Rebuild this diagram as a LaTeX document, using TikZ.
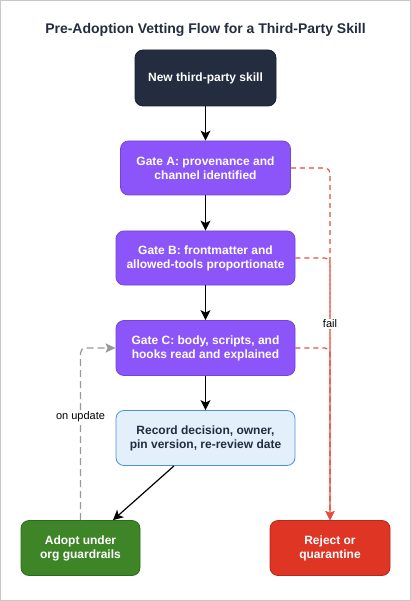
\documentclass[tikz,border=0pt]{standalone}
\usepackage{fontspec}
\setmainfont{Liberation Sans}
\usetikzlibrary{arrows.meta}
\definecolor{darkfill}{HTML}{232D3F}
\definecolor{darkborder}{HTML}{1A2230}
\definecolor{purplefill}{HTML}{8C55F9}
\definecolor{purpleborder}{HTML}{7443D9}
\definecolor{recfill}{HTML}{E3F0FC}
\definecolor{recborder}{HTML}{4A90E2}
\definecolor{greenfill}{HTML}{3E8527}
\definecolor{greenborder}{HTML}{2C6B1B}
\definecolor{redfill}{HTML}{DE3525}
\definecolor{redborder}{HTML}{B8281A}
\definecolor{faildash}{HTML}{E74C3C}
\definecolor{updash}{HTML}{999999}
\definecolor{framegray}{HTML}{C8C8C8}
\begin{document}
\begin{tikzpicture}[x=1pt,y=-1pt,
  box/.style={rounded corners=8pt, align=center, inner sep=0pt, line width=0.8pt,
    font=\fontsize{12}{14}\selectfont\bfseries},
  darkbox/.style={box, fill=darkfill, draw=darkborder, text=white},
  gatebox/.style={box, fill=purplefill, draw=purpleborder, text=white},
  recbox/.style={box, fill=recfill, draw=recborder, text=darkfill},
  adoptbox/.style={box, fill=greenfill, draw=greenborder, text=white},
  rejbox/.style={box, fill=redfill, draw=redborder, text=white},
  arr/.style={draw=black, line width=1.2pt, -{Stealth[length=10pt,width=10pt,inset=2.5pt]}},
  failedge/.style={draw=faildash, line width=1.1pt, dash pattern=on 5pt off 4pt, rounded corners=5pt,
    -{Stealth[length=9pt,width=9pt,inset=2pt]}},
  upedge/.style={draw=updash, line width=1.3pt, dash pattern=on 7pt off 4pt, rounded corners=5pt,
    -{Stealth[length=10pt,width=9pt,inset=2pt]}},
  lbl/.style={font=\fontsize{11}{13}\selectfont, text=black, fill=white, inner sep=1pt}
]
\path[use as bounding box] (0,0) rectangle (411,601);
\draw[framegray, line width=1pt] (0.5,0.5) rectangle (410.5,600.5);

\node[font=\fontsize{14}{16}\selectfont\bfseries, text=darkfill] (title) at (205.5,30)
  {Pre-Adoption Vetting Flow for a Third-Party Skill};

\node[darkbox, minimum width=141pt, minimum height=56pt] (new) at (205.5,78) {New third-party skill};
\node[gatebox, minimum width=170pt, minimum height=54pt] (ga) at (205.5,168) {Gate A: provenance and\\channel identified};
\node[gatebox, minimum width=179pt, minimum height=54pt] (gb) at (205.5,258) {Gate B: frontmatter and\\allowed-tools proportionate};
\node[gatebox, minimum width=179pt, minimum height=55pt] (gc) at (205.5,348) {Gate C: body, scripts, and\\hooks read and explained};
\node[recbox, minimum width=179pt, minimum height=55pt] (rec) at (205.5,438) {Record decision, owner,\\pin version, re-review date};
\node[adoptbox, minimum width=119pt, minimum height=55pt] (adopt) at (80.5,548) {Adopt under\\org guardrails};
\node[rejbox, minimum width=120pt, minimum height=55pt] (rej) at (330,548) {Reject or\\quarantine};

\draw[arr] (new) -- (ga);
\draw[arr] (ga) -- (gb);
\draw[arr] (gb) -- (gc);
\draw[arr] (gc) -- (rec);
\draw[arr] ([xshift=-31.5pt]rec.south) -- ([xshift=32.5pt]adopt.north);

\draw[failedge] (ga.east) -| (rej.north);
\draw[failedge] (gb.east) -| (rej.north);
\draw[failedge] (gc.east) -| (rej.north);
\node[lbl] (faillbl) at (330,324) {fail};

\draw[upedge] (adopt.north) |- (gc.west);
\node[lbl] (uplbl) at (80.5,417) {on update};
\end{tikzpicture}
\end{document}
